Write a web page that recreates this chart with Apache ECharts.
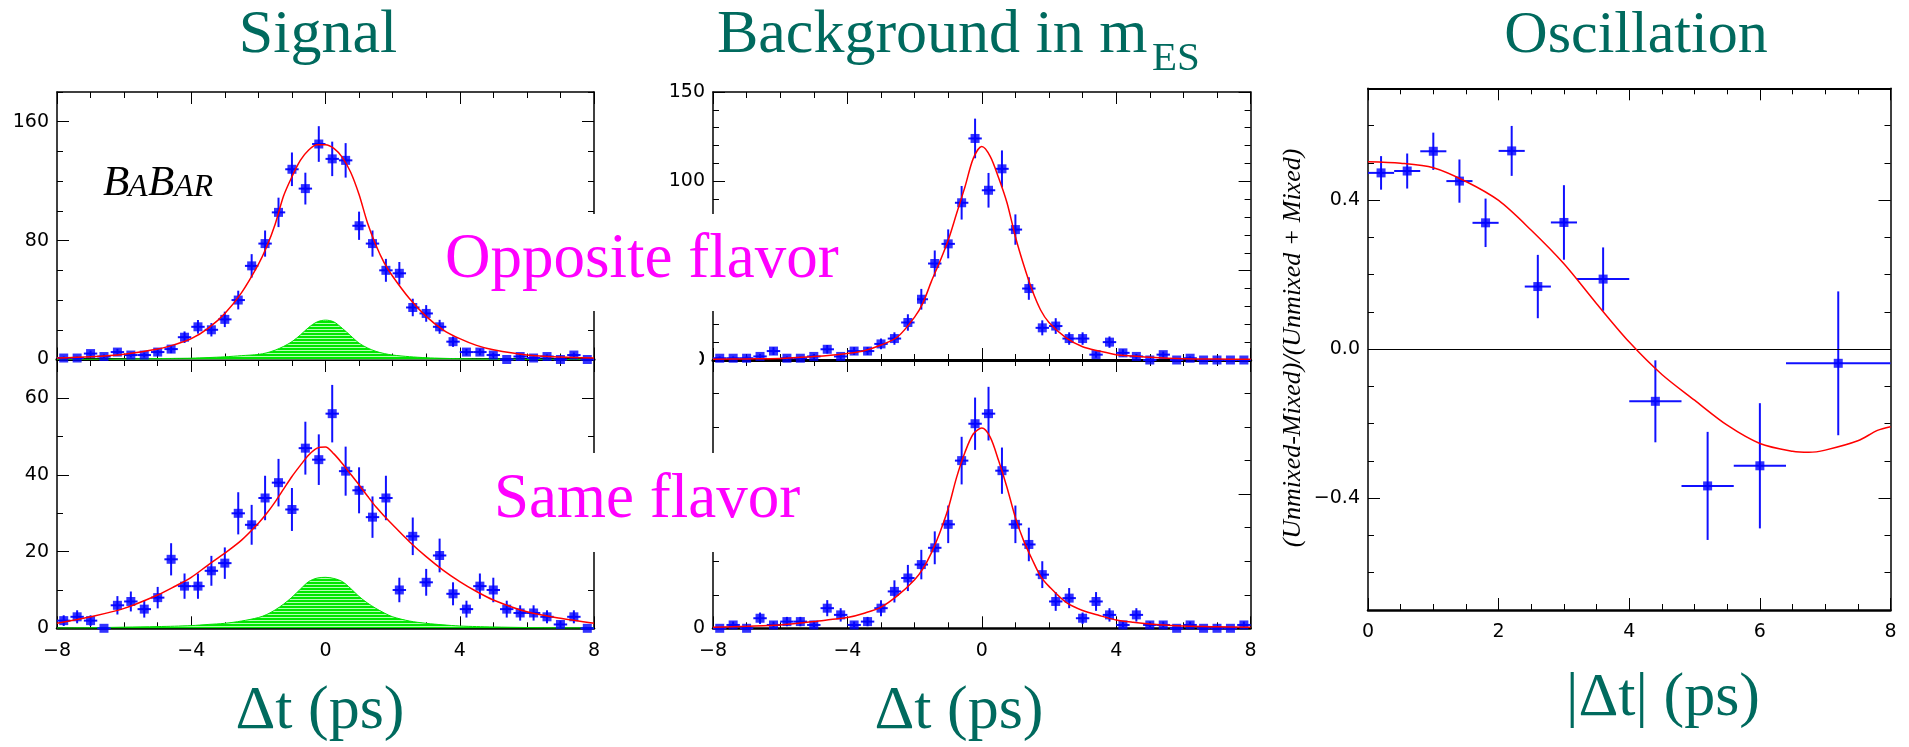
<!DOCTYPE html>
<html><head><meta charset="utf-8">
<script src="https://cdn.jsdelivr.net/npm/echarts@6/dist/echarts.min.js"></script>
<style>html,body{margin:0;padding:0;background:#fff}#c{width:1909px;height:747px}</style>
</head><body><div id="c"></div>
<script>
// ---------------- data ----------------
const dtBins = [-7.8,-7.4,-7.0,-6.6,-6.2,-5.8,-5.4,-5.0,-4.6,-4.2,-3.8,-3.4,-3.0,-2.6,-2.2,-1.8,-1.4,-1.0,-0.6,-0.2,0.2,0.6,1.0,1.4,1.8,2.2,2.6,3.0,3.4,3.8,4.2,4.6,5.0,5.4,5.8,6.2,6.6,7.0,7.4,7.8];
const binHalfWidth = 0.2;

const sigOppCounts = [1,1,4,2,5,3,3,5,7,15,22,20,27,40,63,78,99,128,115,145,135,134,90,78,60,58,35,31,22,12,5,5,3,0,2,1,2,0,3,0];
const sigOppErr    = [1,1,2,1.4,2.2,1.7,1.7,2.2,2.7,3.9,4.6,4.5,5.2,6.3,7.9,8.8,9.9,11.3,10.7,12,11.6,11.6,9.5,8.8,7.7,7.6,5.9,5.6,4.7,3.5,2.2,2.2,1.7,0,1.4,1,1.4,0,1.7,0];
const sigSameCounts = [2,3,2,0,6,7,5,8,18,11,11,15,17,30,27,34,38,31,47,44,56,41,36,29,34,10,24,12,19,9,5,11,10,5,4,4,3,1,3,0];
const sigSameErr    = [1.4,1.7,1.4,0,2.4,2.6,2.2,2.8,4.2,3.3,3.3,3.9,4.1,5.5,5.2,5.8,6.2,5.6,6.9,6.6,7.5,6.4,6,5.4,5.8,3.2,4.9,3.5,4.4,3,2.2,3.3,3.2,2.2,2,2,1.7,1,1.7,0];
const bkgOppCounts = [1,1,1,2,5,1,1,2,6,2,5,5,9,12,21,34,54,65,88,124,95,107,73,40,18,19,12,12,3,10,4,2,0,3,0,1,0,0,0,0];
const bkgOppErr    = [1,1,1,1.4,2.2,1,1,1.4,2.4,1.4,2.2,2.2,3,3.5,4.6,5.8,7.3,8.1,9.4,11.1,9.7,10.3,8.5,6.3,4.2,4.4,3.5,3.5,1.7,3.2,2,1.4,0,1.7,0,1,0,0,0,0];
const bkgSameCounts = [0,1,0,3,1,2,2,1,6,4,1,2,6,11,15,19,24,31,50,61,64,47,31,25,16,8,9,3,8,4,1,4,1,1,0,1,0,0,0,1];
const bkgSameErr    = [0,1,0,1.7,1,1.4,1.4,1,2.4,2,1,1.4,2.4,3.3,3.9,4.4,4.9,5.6,7.1,7.8,8,6.9,5.6,5,4,2.8,3,1.7,2.8,2,1,2,1,1,0,1,0,0,0,1];

const fitX = [-8,-7,-6,-5,-4.5,-4,-3.5,-3,-2.5,-2,-1.75,-1.5,-1.25,-1,-0.75,-0.5,-0.25,0,0.25,0.5,0.75,1,1.25,1.5,1.75,2,2.5,3,3.5,4,4.5,5,6,7,8];
const fitSigOpp  = [1,1.8,3.5,7,10,14,21,31,45,64,76,91,110,123,134,141,144.5,144.5,142,136,126,111,92,77,65,56,41,29,20,14,9.5,6.5,3,1.6,1];
const sigOppBkgShape = [0.15,0.2,0.35,0.6,0.75,0.9,1.3,1.8,2.6,3.4,4.5,6.3,8.8,12,16.5,21.6,25.3,26.5,25.3,21,16,11,7.8,5.5,4,3,1.9,1.2,0.8,0.55,0.4,0.3,0.2,0.12,0.08];
const fitSigSame = [1.3,3,5.2,8.7,10.9,13.3,16.5,19.6,23,27.4,30,33,36.3,39.6,42.5,45.2,47,47.3,45.5,43,40.2,37.4,34.5,31.7,29.3,27,22.6,18.7,15.2,12.2,9.6,7.4,4.3,2.6,1.3];
const sigSameBkgShape = [0.1,0.15,0.3,0.45,0.55,0.7,1,1.3,1.9,2.8,3.6,4.8,6.3,8.1,10.2,12.2,13.1,13.3,13,12.2,10.4,8.3,6.6,5.2,4,3,1.9,1.3,0.9,0.6,0.45,0.35,0.2,0.12,0.1];
const fitBkgOpp  = [0.4,0.6,0.9,1.9,2.6,3.7,5.2,8.4,13,24,32,44,55,67,82,97,113,119.5,114,102,88,69,53,39,28,21,12.5,7.4,5,3,2.2,1.5,0.7,0.5,0.4];
const fitBkgSame = [0.3,0.6,1,2,2.6,3.2,4.5,6.3,9.8,14.5,17.8,22.5,28.5,35.7,45,52.5,58,59.7,57,50,42,33,26,20.5,15.5,12.5,7.8,5.3,3.8,2.5,1.8,1.3,0.7,0.45,0.3];

const oscX    = [0.2,0.6,1.0,1.4,1.8,2.2,2.6,3.0,3.6,4.4,5.2,6.0,7.2];
const oscY    = [0.473,0.478,0.531,0.451,0.339,0.532,0.168,0.340,0.188,-0.140,-0.367,-0.313,-0.038];
const oscXErr = [0.2,0.2,0.2,0.2,0.2,0.2,0.2,0.2,0.4,0.4,0.4,0.4,0.8];
const oscYErr = [0.045,0.047,0.05,0.058,0.065,0.067,0.085,0.1,0.085,0.11,0.145,0.168,0.193];
const oscFitX = [0,0.5,1,1.5,2,2.5,3,3.5,4,4.5,5,5.5,6,6.5,6.75,7,7.5,7.8,8];
const oscFitY = [0.503,0.499,0.487,0.450,0.399,0.319,0.229,0.122,0.019,-0.068,-0.137,-0.204,-0.253,-0.274,-0.277,-0.271,-0.246,-0.218,-0.208];

const dtTicks = {min:-8, max:8, major:4, minorSplit:4};
const oscTicks = {min:0, max:8, major:2, minorSplit:4};
const yTicks = [
  {min:0, max:180, step:20, labels:[0,80,160]},
  {min:0, max:70, step:10, labels:[0,20,40,60]},
  {min:0, max:150, step:10, labels:[0,50,100,150]},
  {min:0, max:80, step:10, labels:[0,40,80]},
  {min:-0.7, max:0.7, step:0.1, labels:[-0.4,0,0.4]}
];

// ---------------- layout ----------------
const grids = [
  {left:57, top:92, width:537, height:267.5},
  {left:57, top:360, width:537, height:268.3},
  {left:713, top:92, width:537.6, height:268},
  {left:713, top:360, width:537.6, height:268.3},
  {left:1368, top:88.3, width:522.5, height:521.7}
];
const bottomW = [3, 2.5, 3, 2.5, 2.5];
const showXLabels = [false, true, false, true, true];

const LBL = {color:'#000', fontFamily:'DejaVu Sans', fontSize:19};
const minus = s => String(s).replace('-', '\u2212');
const intFmt = v => minus(Math.round(v));
const decFmt = v => minus(v.toFixed(1));

const hatch = document.createElement('canvas');
hatch.width = 4; hatch.height = 3;
(function(){const c = hatch.getContext('2d'); c.fillStyle='#b0ffb0'; c.fillRect(0,0,4,3); c.fillStyle='#00e600'; c.fillRect(0,0,4,2);})();

const xAxes = [], yAxes = [];
grids.forEach((g, gi) => {
  const t = gi === 4 ? oscTicks : dtTicks;
  const common = {type:'value', gridIndex:gi, min:t.min, max:t.max, interval:t.major, splitLine:{show:false}};
  xAxes.push(Object.assign({}, common, {position:'bottom',
    axisLine:{show:true, onZero:false, lineStyle:{color:'#000', width:bottomW[gi]}},
    axisTick:{show:true, inside:true, length:12, lineStyle:{color:'#000', width:1}},
    minorTick:{show:true, splitNumber:t.minorSplit, length:6, lineStyle:{color:'#000', width:1}},
    axisLabel:Object.assign({show:showXLabels[gi], margin:13, formatter:intFmt}, LBL)}));
  xAxes.push(Object.assign({}, common, {position:'top',
    axisLine:{show:true, onZero:false, lineStyle:{color:'#000', width: gi===4 ? 2 : 1.5}},
    axisTick:{show:true, inside:true, length:12, lineStyle:{color:'#000', width:1}},
    minorTick:{show:true, splitNumber:t.minorSplit, length:6, lineStyle:{color:'#000', width:1}},
    axisLabel:{show:false}}));
  const y = yTicks[gi];
  const yc = {type:'value', gridIndex:gi, min:y.min, max:y.max, interval:y.step, splitLine:{show:false}};
  ['left','right'].forEach(pos => {
    yAxes.push(Object.assign({}, yc, {position:pos,
      axisLine:{show:true, onZero:false, lineStyle:{color:'#000', width:1.5}},
      axisTick:{show:true, inside:true, length:12, customValues:y.labels, lineStyle:{color:'#000', width:1}},
      axisLabel:Object.assign({show:pos==='left', customValues:y.labels, margin:8, formatter: gi===4 ? decFmt : intFmt}, LBL)}));
    yAxes.push(Object.assign({}, yc, {position:pos,
      axisLine:{show:false, onZero:false},
      axisTick:{show:true, inside:true, length:6, lineStyle:{color:'#000', width:1}},
      axisLabel:{show:false}}));
  });
});

function errRender(params, api) {
  const x = api.value(0), y = api.value(1), xe = api.value(2), ye = api.value(3);
  const l = api.coord([x - xe, y]), r = api.coord([x + xe, y]);
  const t = api.coord([x, y + ye]), b = api.coord([x, y - ye]);
  const ch = [{type:'line', shape:{x1:l[0], y1:l[1], x2:r[0], y2:r[1]}, style:{stroke:'#1010ff', lineWidth:2}}];
  if (ye > 0) ch.push({type:'line', shape:{x1:t[0], y1:t[1], x2:b[0], y2:b[1]}, style:{stroke:'#1010ff', lineWidth:2}});
  return {type:'group', children:ch};
}

function pointSeries(gi, xs, ys, xerr, yerr) {
  return [
    {type:'custom', xAxisIndex:2*gi, yAxisIndex:4*gi, renderItem:errRender, clip:false, silent:true, z:3,
     data: xs.map((x,i) => [x, ys[i], Array.isArray(xerr) ? xerr[i] : xerr, yerr[i]])},
    {type:'scatter', xAxisIndex:2*gi, yAxisIndex:4*gi, symbol:'rect', symbolSize:9, clip:false, silent:true, z:4,
     itemStyle:{color:'#0000ff'}, data: xs.map((x,i) => [x, ys[i]])}
  ];
}
function curveSeries(gi, xs, ys, extra) {
  return Object.assign({type:'line', xAxisIndex:2*gi, yAxisIndex:4*gi, smooth:0.3, showSymbol:false, silent:true, z:5,
    lineStyle:{color:'#ff0000', width:1.5}, data: xs.map((x,i) => [x, ys[i]])}, extra || {});
}
function areaSeries(gi, xs, ys) {
  return {type:'line', xAxisIndex:2*gi, yAxisIndex:4*gi, smooth:0.3, showSymbol:false, silent:true, z:1,
    lineStyle:{color:'#00dd00', width:1}, areaStyle:{color:{image:hatch, repeat:'repeat'}, opacity:1},
    data: xs.map((x,i) => [x, ys[i]])};
}

const series = [
  areaSeries(0, fitX, sigOppBkgShape),
  ...pointSeries(0, dtBins, sigOppCounts, binHalfWidth, sigOppErr),
  curveSeries(0, fitX, fitSigOpp),
  areaSeries(1, fitX, sigSameBkgShape),
  ...pointSeries(1, dtBins, sigSameCounts, binHalfWidth, sigSameErr),
  curveSeries(1, fitX, fitSigSame),
  ...pointSeries(2, dtBins, bkgOppCounts, binHalfWidth, bkgOppErr),
  curveSeries(2, fitX, fitBkgOpp),
  ...pointSeries(3, dtBins, bkgSameCounts, binHalfWidth, bkgSameErr),
  curveSeries(3, fitX, fitBkgSame),
  ...pointSeries(4, oscX, oscY, oscXErr, oscYErr),
  curveSeries(4, oscFitX, oscFitY, {markLine:{silent:true, symbol:'none', label:{show:false},
    lineStyle:{color:'#000', width:1, type:'solid'}, data:[{yAxis:0}]}})
];

// ---------------- text ----------------
const TEAL = '#006a5e';
function txt(x, y, text, font, fill, align, extra) {
  return Object.assign({type:'text', x:x, y:y, z:101,
    style:{text:text, font:font, fill:fill, align:align, textAlign:align, verticalAlign:'middle', textVerticalAlign:'middle'}}, extra || {});
}
const serif = '"Liberation Serif", "Times New Roman", serif';
const graphic = [
  {type:'rect', z:100, shape:{x:440, y:214, width:477, height:97}, style:{fill:'#fff'}},
  {type:'rect', z:100, shape:{x:488, y:453, width:322, height:99}, style:{fill:'#fff'}},
  {type:'rect', z:100, shape:{x:600, y:346, width:99.5, height:26}, style:{fill:'#fff'}},
  txt(318, 36, 'Signal', '62px ' + serif, TEAL, 'center'),
  txt(717, 36, 'Background in m', '62px ' + serif, TEAL, 'left'),
  txt(1152, 59, 'ES', '41px ' + serif, TEAL, 'left'),
  txt(1636, 36, 'Oscillation', '60px ' + serif, TEAL, 'center'),
  txt(320, 712, '\u0394t (ps)', '62px ' + serif, TEAL, 'center'),
  txt(959, 712, '\u0394t (ps)', '62px ' + serif, TEAL, 'center'),
  txt(1663, 699, '|\u0394t| (ps)', '62px ' + serif, TEAL, 'center'),
  txt(445, 260.4, 'Opposite flavor', '63px ' + serif, '#ff00ff', 'left'),
  txt(494, 500.4, 'Same flavor', '63px ' + serif, '#ff00ff', 'left'),
  txt(103, 183.8, 'B', 'italic 43px ' + serif, '#000', 'left'),
  txt(128, 187.5, 'A', 'italic 32px ' + serif, '#000', 'left'),
  txt(148, 183.8, 'B', 'italic 43px ' + serif, '#000', 'left'),
  txt(174, 187.5, 'AR', 'italic 32px ' + serif, '#000', 'left'),
  txt(1293, 348, '(Unmixed-Mixed)/(Unmixed + Mixed)', 'italic 26px ' + serif, '#000', 'center', {rotation: Math.PI/2})
];

const chart = echarts.init(document.getElementById('c'), null, {renderer:'canvas'});
chart.setOption({
  animation:false,
  backgroundColor:'#fff',
  grid: grids.map(g => Object.assign({containLabel:false}, g)),
  xAxis: xAxes,
  yAxis: yAxes,
  series: series,
  graphic: graphic
});
</script>
</body></html>
